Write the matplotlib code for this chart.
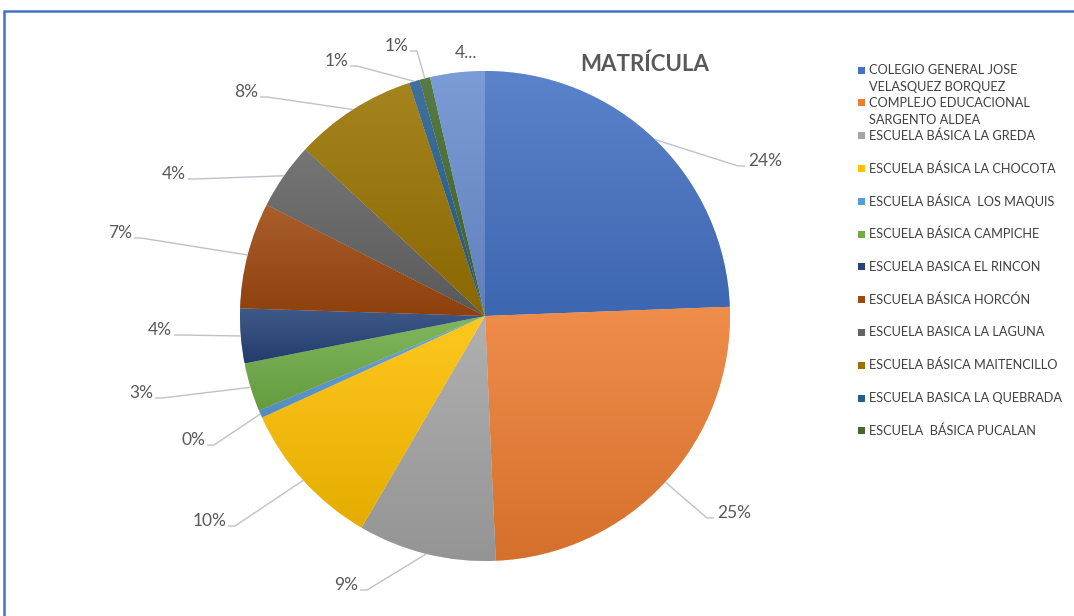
#!/usr/bin/env python3
import numpy as np
import matplotlib
matplotlib.use("Agg")
import matplotlib.pyplot as plt
from matplotlib.colors import to_rgb
from matplotlib.patches import Rectangle

W, H = 1074, 616

# data (share of enrolment)
schools = ["COLEGIO GENERAL JOSE\nVELASQUEZ BORQUEZ",
           "COMPLEJO EDUCACIONAL\nSARGENTO ALDEA",
           "ESCUELA BÁSICA LA GREDA",
           "ESCUELA BÁSICA LA CHOCOTA",
           "ESCUELA BÁSICA  LOS MAQUIS",
           "ESCUELA BÁSICA CAMPICHE",
           "ESCUELA BASICA EL RINCON",
           "ESCUELA BÁSICA HORCÓN",
           "ESCUELA BASICA LA LAGUNA",
           "ESCUELA BÁSICA MAITENCILLO",
           "ESCUELA BASICA LA QUEBRADA",
           "ESCUELA  BÁSICA PUCALAN"]
shares = [24.4, 24.9, 9.1, 9.8, 0.5, 3.2, 3.6, 7.0, 4.4, 8.1, 0.7, 0.7, 3.6]
pct_labels = ["24%", "25%", "9%", "10%", "0%", "3%", "4%", "7%", "4%",
              "8%", "1%", "1%", "4..."]
colors = ["#4472C4", "#ED7D31", "#A5A5A5", "#FFC000", "#5B9BD5", "#70AD47",
          "#264478", "#9E480E", "#636363", "#997300", "#255E91", "#43682B",
          "#698ED0"]

# layout (pixels from top-left)
cx, cy, R = 485, 316, 245
# point where leader line meets the label text; None = label without line
label_ends = [(745, 166), (714, 518), (360, 590), (228, 526), (207, 445),
              (155, 398), (174, 335), (134, 238), (188, 179), (260, 97),
              (350, 66), (410, 51), None]
txt = "#595959"

plt.rcParams['font.family'] = ['Lato', 'DejaVu Sans']

fig = plt.figure(figsize=(W / 100, H / 100), dpi=100)
ax = fig.add_axes([0, 0, 1, 1])

wedges, _ = ax.pie(shares, colors=colors, startangle=90, counterclock=False,
                   center=(cx, H - cy), radius=R,
                   wedgeprops=dict(linewidth=0.4, edgecolor='white'))
ax.set_xlim(0, W)
ax.set_ylim(0, H)
ax.axis('off')

# soft vertical gradient on each slice, like the office chart style
for w, c in zip(wedges, colors):
    base = np.array(to_rgb(c))
    top = base + (1 - base) * 0.12
    bot = base * 0.90
    t = np.linspace(0, 1, 64)[:, None]
    grad = (top * (1 - t) + bot * t)[:, None, :]
    bb = w.get_path().get_extents(w.get_patch_transform())
    im = ax.imshow(grad, extent=(bb.x0, bb.x1, bb.y0, bb.y1), origin='upper',
                   aspect='auto', zorder=w.get_zorder() + 0.1)
    im.set_clip_path(w)

# data labels with leader lines
for w, lab, end in zip(wedges, pct_labels, label_ends):
    mid = np.deg2rad((w.theta1 + w.theta2) / 2)
    ex, ey = cx + R * np.cos(mid), (H - cy) + R * np.sin(mid)
    if end is None:
        ax.text(466, H - 53, lab, ha='center', va='center', fontsize=12.5, color=txt)
        continue
    lx, ly = end[0], H - end[1]
    side = 1 if lx < cx else -1
    ax.plot([lx, lx + side * 7, ex], [ly, ly, ey], color='#BCC2CC', lw=1.0,
            zorder=5, solid_capstyle='butt')
    if side == 1:
        ax.text(lx - 2, ly + 5, lab, ha='right', va='center', fontsize=12.5, color=txt)
    else:
        ax.text(lx + 3, ly + 5, lab, ha='left', va='center', fontsize=12.5, color=txt)

# title
ax.text(645, H - 64, "MATRÍCULA", ha='center', va='center', fontsize=16,
        fontweight='bold', color=txt)

# legend
for i, (name, c) in enumerate(zip(schools, colors)):
    y = 70 + 32.8 * i
    ax.add_patch(Rectangle((858, H - y - 3.5), 7, 7, facecolor=c, edgecolor='none'))
    for k, line in enumerate(name.split("\n")):
        ax.text(869, H - y - 17 * k, line, ha='left', va='center', fontsize=9.2,
                color='#404040')

# chart frame (only top and left edges visible)
ax.plot([3, W], [H - 11, H - 11], color='#4472C4', lw=1.8, solid_capstyle='butt')
ax.plot([4, 4], [H - 11, 0], color='#4472C4', lw=1.8, solid_capstyle='butt')

fig.savefig("out.png", dpi=100, facecolor='white')
